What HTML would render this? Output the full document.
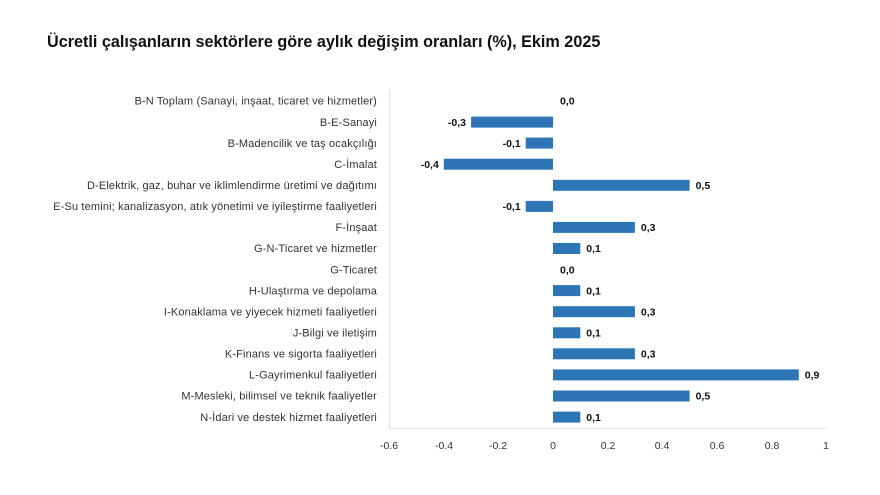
<!DOCTYPE html>
<html><head><meta charset="utf-8"><style>
body{margin:0;background:#fff;}
svg{display:block;font-family:"Liberation Sans","DejaVu Sans",sans-serif;}
</style></head><body>
<svg width="880" height="495" xmlns="http://www.w3.org/2000/svg">
<rect width="880" height="495" fill="#fff"/>
<text x="47" y="47" font-size="16.2" font-weight="bold" fill="#111">Ücretli çalışanların sektörlere göre aylık değişim oranları (%), Ekim 2025</text>
<line x1="389.5" y1="90" x2="389.5" y2="428" stroke="#e3e3e3"/>
<line x1="389" y1="428.5" x2="827" y2="428.5" stroke="#e3e3e3"/>
<g font-size="10.5" fill="#333" text-anchor="middle">
<text x="389" y="449">-0.6</text><text x="444" y="449">-0.4</text><text x="498" y="449">-0.2</text><text x="553" y="449">0</text><text x="608" y="449">0.2</text><text x="662" y="449">0.4</text><text x="717" y="449">0.6</text><text x="772" y="449">0.8</text><text x="826" y="449">1</text>
</g>
<g font-size="11" letter-spacing="0.15" fill="#333" text-anchor="end">
<text x="377" y="104.7">B-N Toplam (Sanayi, inşaat, ticaret ve hizmetler)</text>
<text x="377" y="125.8">B-E-Sanayi</text>
<text x="377" y="146.8">B-Madencilik ve taş ocakçılığı</text>
<text x="377" y="167.9">C-İmalat</text>
<text x="377" y="189">D-Elektrik, gaz, buhar ve iklimlendirme üretimi ve dağıtımı</text>
<text x="377" y="210.1">E-Su temini; kanalizasyon, atık yönetimi ve iyileştirme faaliyetleri</text>
<text x="377" y="231.1">F-İnşaat</text>
<text x="377" y="252.2">G-N-Ticaret ve hizmetler</text>
<text x="377" y="273.3">G-Ticaret</text>
<text x="377" y="294.3">H-Ulaştırma ve depolama</text>
<text x="377" y="315.4">I-Konaklama ve yiyecek hizmeti faaliyetleri</text>
<text x="377" y="336.5">J-Bilgi ve iletişim</text>
<text x="377" y="357.5">K-Finans ve sigorta faaliyetleri</text>
<text x="377" y="378.6">L-Gayrimenkul faaliyetleri</text>
<text x="377" y="399.7">M-Mesleki, bilimsel ve teknik faaliyetler</text>
<text x="377" y="420.8">N-İdari ve destek hizmet faaliyetleri</text>
</g>
<g fill="#2e75b6">
<rect x="471.1" y="116.6" width="81.9" height="11"/>
<rect x="525.7" y="137.6" width="27.3" height="11"/>
<rect x="443.8" y="158.7" width="109.2" height="11"/>
<rect x="553" y="179.8" width="136.6" height="11"/>
<rect x="525.7" y="200.9" width="27.3" height="11"/>
<rect x="553" y="221.9" width="81.9" height="11"/>
<rect x="553" y="243" width="27.3" height="11"/>
<rect x="553" y="285.1" width="27.3" height="11"/>
<rect x="553" y="306.2" width="81.9" height="11"/>
<rect x="553" y="327.3" width="27.3" height="11"/>
<rect x="553" y="348.3" width="81.9" height="11"/>
<rect x="553" y="369.4" width="245.8" height="11"/>
<rect x="553" y="390.5" width="136.6" height="11"/>
<rect x="553" y="411.6" width="27.3" height="11"/>
</g>
<g font-size="10.5" font-weight="bold" fill="#111">
<text x="560" y="104.7">0,0</text>
<text x="466" y="125.8" text-anchor="end">-0,3</text>
<text x="520.7" y="146.8" text-anchor="end">-0,1</text>
<text x="438.8" y="167.9" text-anchor="end">-0,4</text>
<text x="695.6" y="189">0,5</text>
<text x="520.7" y="210.1" text-anchor="end">-0,1</text>
<text x="640.9" y="231.1">0,3</text>
<text x="586.3" y="252.2">0,1</text>
<text x="560" y="273.3">0,0</text>
<text x="586.3" y="294.3">0,1</text>
<text x="640.9" y="315.4">0,3</text>
<text x="586.3" y="336.5">0,1</text>
<text x="640.9" y="357.5">0,3</text>
<text x="804.8" y="378.6">0,9</text>
<text x="695.6" y="399.7">0,5</text>
<text x="586.3" y="420.8">0,1</text>
</g>
</svg>
</body></html>
